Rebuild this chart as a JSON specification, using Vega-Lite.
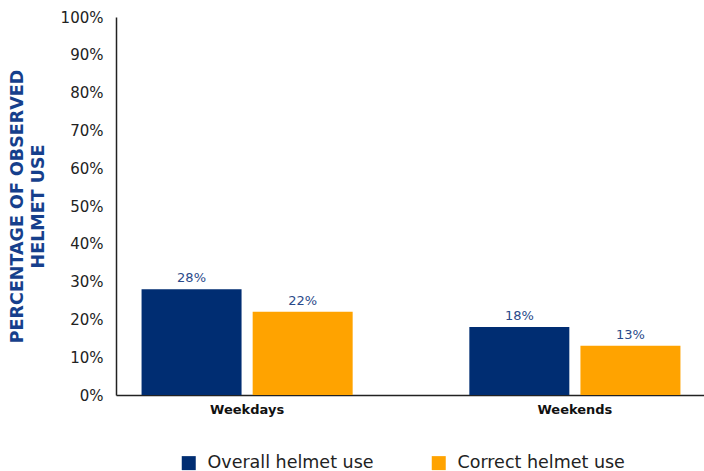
{
  "$schema": "https://vega.github.io/schema/vega-lite/v6.json",
  "autosize": "none",
  "width": 590,
  "height": 378,
  "padding": {"left": 116, "top": 17, "right": 0, "bottom": 76},
  "background": "white",
  "data": {"values": [
    {"period": "Weekdays", "measure": "Overall helmet use", "value": 0.28},
    {"period": "Weekdays", "measure": "Correct helmet use", "value": 0.22},
    {"period": "Weekends", "measure": "Overall helmet use", "value": 0.18},
    {"period": "Weekends", "measure": "Correct helmet use", "value": 0.13}
  ]},
  "encoding": {
    "x": {"field": "period", "type": "nominal", "sort": ["Weekdays", "Weekends"],
      "scale": {"paddingInner": 0.2, "paddingOuter": 0},
      "axis": {"title": null, "labelAngle": 0, "labelFont": "DejaVu Sans", "labelFontSize": 13, "labelFontWeight": "bold", "labelColor": "#111", "ticks": false, "labelPadding": 8, "domainColor": "#222", "domainWidth": 1.5}},
    "xOffset": {"field": "measure", "type": "nominal", "sort": ["Overall helmet use", "Correct helmet use"],
      "scale": {"paddingInner": 0.1, "paddingOuter": 0.23}},
    "y": {"field": "value", "type": "quantitative",
      "scale": {"domain": [0, 1]},
      "axis": {"values": [0,0.1,0.2,0.3,0.4,0.5,0.6,0.7,0.8,0.9,1], "format": ".0%", "grid": false, "ticks": false, "labelPadding": 13, "labelFont": "DejaVu Sans", "labelFontSize": 15, "labelColor": "#222", "domainColor": "#222", "domainWidth": 1.5,
        "title": ["PERCENTAGE OF OBSERVED", "HELMET USE"], "titleFont": "DejaVu Sans", "titleFontSize": 17.5, "titleFontWeight": "bold", "titleColor": "#163f8c", "titlePadding": 13, "titleLineHeight": 21}}
  },
  "layer": [
    {"mark": {"type": "bar"},
     "encoding": {"color": {"field": "measure", "type": "nominal", "sort": ["Overall helmet use", "Correct helmet use"],
       "scale": {"domain": ["Overall helmet use", "Correct helmet use"], "range": ["#002d72", "#ffa300"]},
       "legend": {"title": null, "orient": "none", "direction": "horizontal", "legendX": 64, "legendY": 437, "symbolType": "square", "symbolSize": 196, "symbolStrokeWidth": 0, "symbolOpacity": 1, "labelFont": "DejaVu Sans", "labelFontSize": 17.5, "labelLimit": 400, "labelColor": "#222", "labelOffset": 10, "columnPadding": 56}}}},
    {"mark": {"type": "text", "dy": -4, "baseline": "bottom", "font": "DejaVu Sans", "fontSize": 13, "color": "#2a4a8a"},
     "encoding": {"text": {"field": "value", "type": "quantitative", "format": ".0%"}, "detail": {"field": "measure"}}}
  ],
  "config": {"view": {"stroke": null}}
}
